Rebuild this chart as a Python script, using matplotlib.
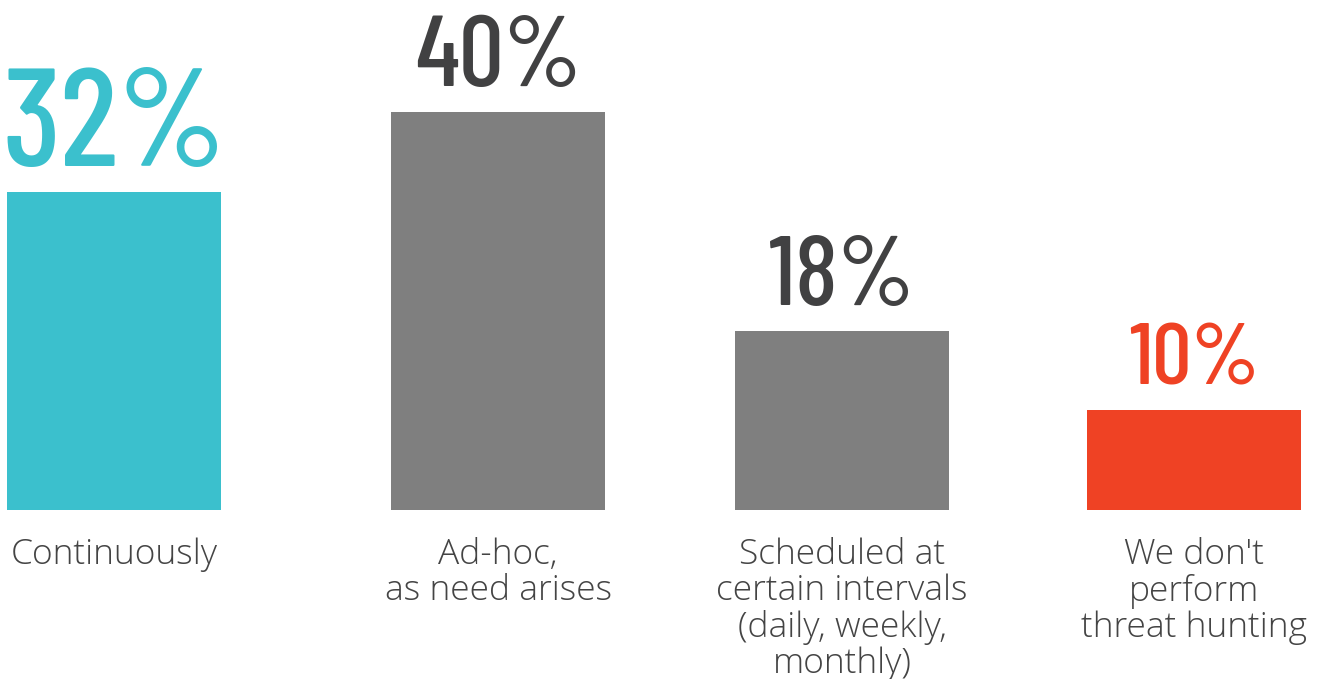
import matplotlib.pyplot as plt

categories = ["Continuously", "Ad-hoc,\nas need arises",
              "Scheduled at\ncertain intervals\n(daily, weekly,\nmonthly)",
              "We don't\nperform\nthreat hunting"]
values = [32, 40, 18, 10]
labels = ["32%", "40%", "18%", "10%"]

bar_colors = ["#3BC0CD", "#7F7F7F", "#7F7F7F", "#EF4224"]
pct_colors = ["#3BC0CD", "#414142", "#414142", "#EF4224"]
pct_sizes = [100, 72, 71, 63]
text_color = "#444444"

fig = plt.figure(figsize=(13.23, 6.79), dpi=100)
ax = fig.add_axes([0, 0, 1, 1])
ax.set_xlim(-0.3167, 3.358)
ax.set_ylim(-17.0, 51.25)
ax.axis("off")

xpos = [0, 1.067, 2.022, 3]
ax.bar(xpos, values, width=0.596, color=bar_colors)

for x, v, lab, c, s in zip(xpos, values, labels, pct_colors, pct_sizes):
    ax.text(x, v + 2.6, lab, ha="center", va="baseline", color=c,
            fontsize=s, family="Barlow Condensed", weight=500)

for x, cat in zip(xpos, categories):
    ax.text(x, -2.75, cat, ha="center", va="top", color=text_color,
            fontsize=25.5, family="Open Sans", weight="light", linespacing=1.07)

fig.savefig("out.png", dpi=100)
